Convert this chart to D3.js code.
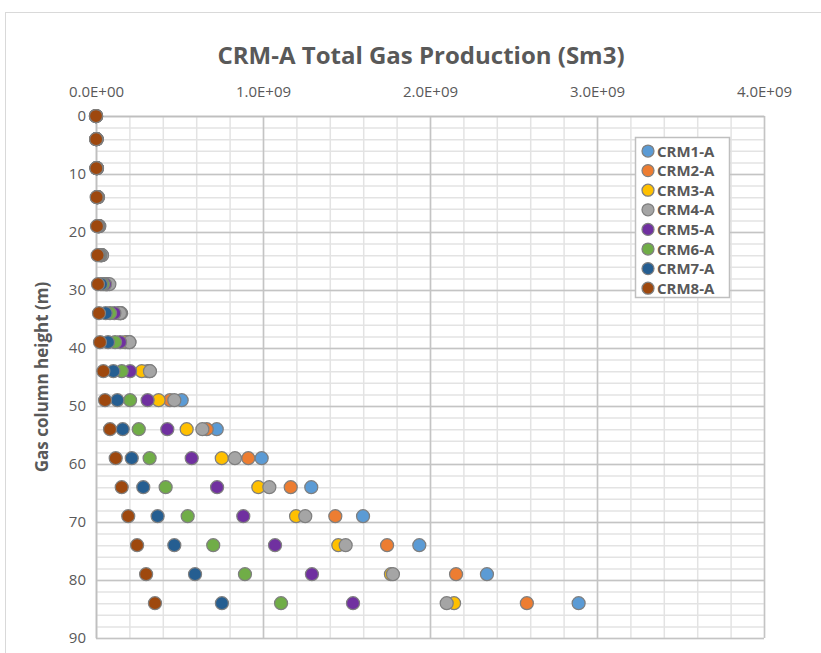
<!DOCTYPE html>
<html>
<head>
<meta charset="utf-8">
<script src="https://cdn.jsdelivr.net/npm/d3@7"></script>
<style>
  body { margin: 0; background: #fff; }
  svg { display: block; font-family: "Open Sans", sans-serif; }
</style>
</head>
<body>
<svg id="chart" width="821" height="653"></svg>
<script>
// data (gas production in units of 1e9 Sm3)
var heights = [0, 4, 9, 14, 19, 24, 29, 34, 39, 44, 49, 54, 59, 64, 69, 74, 79, 84];
var seriesNames = ["CRM1-A", "CRM2-A", "CRM3-A", "CRM4-A", "CRM5-A", "CRM6-A", "CRM7-A", "CRM8-A"];
var seriesColors = ["#5B9BD5", "#ED7D31", "#FFC000", "#A5A5A5", "#7030A0", "#70AD47", "#255E91", "#9E480E"];
var crm1 = [0, 0.003, 0.005, 0.010, 0.018, 0.034, 0.068, 0.150, 0.200, 0.320, 0.513, 0.723, 0.992, 1.289, 1.599, 1.936, 2.341, 2.890];
var crm2 = [0, 0.003, 0.005, 0.010, 0.017, 0.032, 0.065, 0.145, 0.190, 0.310, 0.443, 0.663, 0.912, 1.166, 1.433, 1.743, 2.156, 2.580];
var crm3 = [0, 0.003, 0.005, 0.009, 0.016, 0.030, 0.060, 0.135, 0.175, 0.274, 0.375, 0.543, 0.753, 0.972, 1.198, 1.451, 1.766, 2.144];
var crm4 = [0, 0.004, 0.006, 0.012, 0.020, 0.036, 0.080, 0.144, 0.200, 0.323, 0.469, 0.637, 0.832, 1.038, 1.253, 1.495, 1.778, 2.100];
var crm5 = [0, 0.002, 0.004, 0.008, 0.014, 0.026, 0.054, 0.110, 0.144, 0.204, 0.309, 0.427, 0.573, 0.725, 0.882, 1.072, 1.293, 1.539];
var crm6 = [0, 0.002, 0.004, 0.007, 0.012, 0.022, 0.042, 0.084, 0.114, 0.154, 0.204, 0.256, 0.321, 0.417, 0.549, 0.702, 0.892, 1.108];
var crm7 = [0, 0.002, 0.003, 0.006, 0.010, 0.016, 0.030, 0.058, 0.072, 0.104, 0.128, 0.160, 0.214, 0.283, 0.369, 0.469, 0.593, 0.754];
var crm8 = [0, 0.001, 0.002, 0.004, 0.006, 0.010, 0.012, 0.018, 0.024, 0.044, 0.054, 0.084, 0.118, 0.154, 0.193, 0.246, 0.300, 0.353];
var xTicks = [0, 1e9, 2e9, 3e9, 4e9];
var yTicks = [0, 10, 20, 30, 40, 50, 60, 70, 80, 90];

var allSeries = [crm1, crm2, crm3, crm4, crm5, crm6, crm7, crm8];

var svg = d3.select("#chart");

// layout
var margin_l = 96, margin_t = 116;
var plot_r = 764, plot_b = 638;
var textColor = "#595959";

var xScale = d3.scaleLinear().domain([0, 4e9]).range([margin_l, plot_r]);
var yScale = d3.scaleLinear().domain([0, 90]).range([margin_t, plot_b]);

// chart area border
svg.append("rect")
  .attr("x", 5.5).attr("y", 12.5)
  .attr("width", 830).attr("height", 660)
  .attr("fill", "#fff")
  .attr("stroke", "#D9D9D9");

// minor gridlines
svg.append("g")
  .attr("transform", "translate(0," + margin_t + ")")
  .call(d3.axisTop(xScale).tickValues(d3.range(0, 4.01e9, 0.2e9)).tickSize(-(plot_b - margin_t)).tickFormat(""))
  .call(function(g) { g.select(".domain").remove(); })
  .selectAll("line").attr("stroke", "#E3E3E3").attr("stroke-width", 1.5);

svg.append("g")
  .attr("transform", "translate(" + margin_l + ",0)")
  .call(d3.axisLeft(yScale).tickValues(d3.range(0, 91, 2)).tickSize(-(plot_r - margin_l)).tickFormat(""))
  .call(function(g) { g.select(".domain").remove(); })
  .selectAll("line").attr("stroke", "#E3E3E3").attr("stroke-width", 1.5);

// major gridlines
svg.append("g")
  .attr("transform", "translate(0," + margin_t + ")")
  .call(d3.axisTop(xScale).tickValues(xTicks).tickSize(-(plot_b - margin_t)).tickFormat(""))
  .call(function(g) { g.select(".domain").remove(); })
  .selectAll("line").attr("stroke", "#C4C4C4").attr("stroke-width", 1.5);

svg.append("g")
  .attr("transform", "translate(" + margin_l + ",0)")
  .call(d3.axisLeft(yScale).tickValues(yTicks).tickSize(-(plot_r - margin_l)).tickFormat(""))
  .call(function(g) { g.select(".domain").remove(); })
  .selectAll("line").attr("stroke", "#C4C4C4").attr("stroke-width", 1.5);

// scientific tick format like 1.0E+09
function sciFormat(d) {
  if (d === 0) return "0.0E+00";
  var e = Math.floor(Math.log10(d));
  var m = (d / Math.pow(10, e)).toFixed(1);
  return m + "E+" + (e < 10 ? "0" + e : e);
}

// x axis (top)
var xAxis = svg.append("g")
  .attr("transform", "translate(0," + margin_t + ")")
  .call(d3.axisTop(xScale).tickValues(xTicks).tickSize(0).tickPadding(19).tickFormat(sciFormat));
xAxis.select(".domain").attr("stroke", "#BFBFBF").attr("stroke-width", 1.5);
xAxis.selectAll("text").attr("fill", textColor).style("font-size", "15px").style("font-family", "Open Sans");

// y axis
var yAxis = svg.append("g")
  .attr("transform", "translate(" + margin_l + ",0)")
  .call(d3.axisLeft(yScale).tickValues(yTicks).tickSize(0).tickPadding(10));
yAxis.select(".domain").attr("stroke", "#BFBFBF").attr("stroke-width", 1.5);
yAxis.selectAll("text").attr("fill", textColor).style("font-size", "15px").style("font-family", "Open Sans");

// points, first series at the bottom
allSeries.forEach(function(vals, i) {
  svg.append("g").selectAll("circle")
    .data(vals)
    .enter().append("circle")
    .attr("cx", function(d) { return xScale(d * 1e9); })
    .attr("cy", function(d, j) { return yScale(heights[j]); })
    .attr("r", 6.5)
    .attr("fill", seriesColors[i])
    .attr("stroke", "#7F7F7F")
    .attr("stroke-width", 1.25);
});

// title
svg.append("text")
  .attr("x", 421).attr("y", 64)
  .attr("text-anchor", "middle")
  .attr("fill", textColor)
  .style("font-size", "24px")
  .style("font-weight", "bold")
  .text("CRM-A Total Gas Production (Sm3)");

// y axis title
svg.append("text")
  .attr("transform", "translate(48," + ((margin_t + plot_b) / 2) + ") rotate(-90)")
  .attr("text-anchor", "middle")
  .attr("fill", textColor)
  .style("font-size", "17px")
  .style("font-weight", "bold")
  .text("Gas column height (m)");

// legend
var legend = svg.append("g");
legend.append("rect")
  .attr("x", 635.5).attr("y", 137.5)
  .attr("width", 94).attr("height", 160)
  .attr("fill", "#fff")
  .attr("stroke", "#BFBFBF")
  .attr("stroke-width", 1.5);

var items = legend.selectAll("g.item")
  .data(seriesNames)
  .enter().append("g")
  .attr("transform", function(d, i) { return "translate(648," + (151 + i * 19.6) + ")"; });
items.append("circle")
  .attr("r", 6)
  .attr("fill", function(d, i) { return seriesColors[i]; })
  .attr("stroke", "#7F7F7F")
  .attr("stroke-width", 1.25);
items.append("text")
  .attr("x", 9).attr("y", 5.5)
  .attr("fill", textColor)
  .style("font-size", "15px")
  .style("font-weight", "bold")
  .text(function(d) { return d; });
</script>
</body>
</html>
